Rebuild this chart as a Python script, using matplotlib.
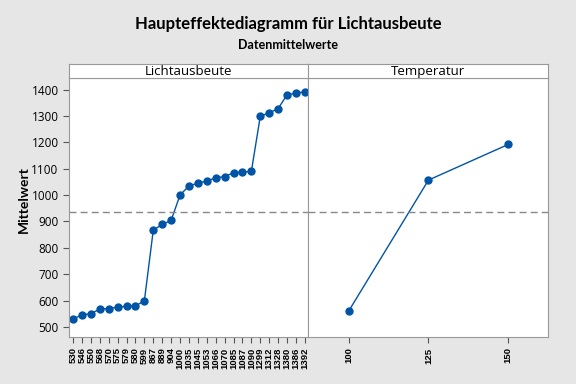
import matplotlib.pyplot as plt
import numpy as np

# Data
licht_labels = ['530', '546', '550', '568', '570', '575', '579', '580', '599',
                '867', '889', '904', '1000', '1035', '1045', '1053', '1066', '1070',
                '1085', '1087', '1090', '1299', '1312', '1328', '1380', '1386', '1392']
licht_means = [530, 546, 550, 568, 570, 575, 579, 580, 599,
               867, 889, 904, 1000, 1035, 1045, 1053, 1066, 1070,
               1085, 1087, 1090, 1299, 1312, 1328, 1380, 1386, 1392]
temp_levels = [100, 125, 150]
temp_means = [561, 1057, 1192]
grand_mean = 936

BG = '#e6e6e6'
BLUE = '#0054a6'
EDGE = '#999999'

fig = plt.figure(figsize=(5.76, 3.84), dpi=100, facecolor=BG)
plt.rcParams['font.family'] = ['Open Sans', 'DejaVu Sans']

bottom, top = 1 - 337 / 384, 1 - 78 / 384
strip_h = 14 / 384
ax1 = fig.add_axes([69 / 576, bottom, 239 / 576, top - bottom])
ax2 = fig.add_axes([308 / 576, bottom, 240 / 576, top - bottom], sharey=ax1)

ylim = (462, 1444)

# Left panel
x1 = np.arange(len(licht_labels))
ax1.plot(x1, licht_means, color=BLUE, lw=1, marker='o', ms=5)
ax1.set_xlim(-0.45, len(licht_labels) - 0.65)
ax1.set_xticks(x1)
ax1.set_xticklabels(licht_labels, rotation=90, fontsize=6.8, fontweight='bold',
                    family='Liberation Sans')
ax1.set_ylim(*ylim)
ax1.set_yticks(range(500, 1401, 100))
ax1.set_ylabel('Mittelwert', fontsize=10, fontweight='bold', family='Lato')
ax1.yaxis.set_label_coords(-(69 - 30) / 239, 0.53)
ax1.axhline(grand_mean, color='#888888', lw=1, ls=(0, (5, 3)))

# Right panel
ax2.plot(temp_levels, temp_means, color=BLUE, lw=1, marker='o', ms=5)
ax2.set_xlim(87.2, 162.5)
ax2.set_xticks(temp_levels)
ax2.set_xticklabels([str(t) for t in temp_levels], rotation=90, fontsize=6.8,
                    fontweight='bold', family='Liberation Sans')
ax2.tick_params(axis='y', left=False, labelleft=False)
ax2.axhline(grand_mean, color='#888888', lw=1, ls=(0, (5, 3)))

for ax, name in [(ax1, 'Lichtausbeute'), (ax2, 'Temperatur')]:
    ax.set_facecolor('white')
    for s in ax.spines.values():
        s.set_color(EDGE)
    ax.tick_params(colors='#555555', labelcolor='black', length=4)
    ax.tick_params(axis='y', labelsize=8.5)
    # strip header
    pos = ax.get_position()
    strip = fig.add_axes([pos.x0, pos.y1, pos.width, strip_h])
    strip.set_xticks([])
    strip.set_yticks([])
    strip.set_facecolor('white')
    for s in strip.spines.values():
        s.set_color(EDGE)
    strip.text(0.5, 0.45, name, ha='center', va='center', fontsize=9.5)

fig.text(0.5, 1 - 24 / 384, 'Haupteffektediagramm für Lichtausbeute',
         ha='center', va='center', fontsize=12, fontweight='bold', family='Lato')
fig.text(0.5, 1 - 45 / 384, 'Datenmittelwerte', ha='center', va='center',
         fontsize=9, fontweight='bold', family='Lato')

fig.savefig('out.png', dpi=100, facecolor=BG)
